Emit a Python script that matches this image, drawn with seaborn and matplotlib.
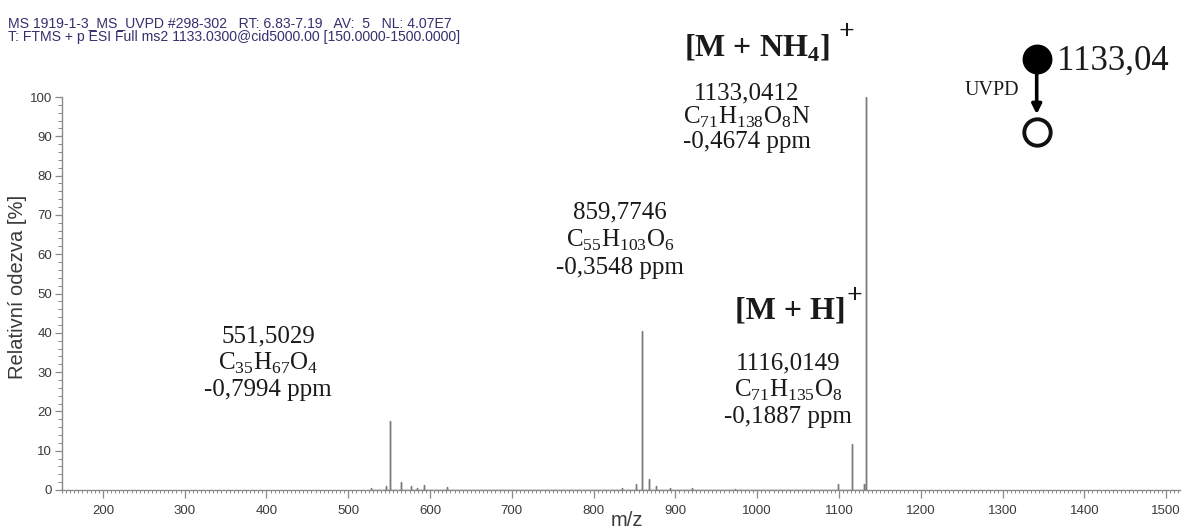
import matplotlib
matplotlib.use("Agg")
import matplotlib.pyplot as plt
import seaborn as sns
import pandas as pd
from matplotlib.lines import Line2D
from matplotlib.patches import FancyArrowPatch
from matplotlib.ticker import MultipleLocator

# ---- data ----
peak_mz = [528.0, 546.0, 551.50, 565.0, 577.0, 584.0, 593.0, 621.0, 835.0, 852.0,
           859.77, 867.5, 876.5, 893.5, 920.0, 973.5, 1099.0, 1116.01, 1131.0, 1133.04]
peak_rel = [0.4, 1.0, 17.5, 2.0, 1.0, 0.6, 1.3, 0.8, 0.5, 1.4,
            40.5, 2.7, 1.0, 0.4, 0.5, 0.3, 1.4, 11.8, 1.4, 100.0]
x_ticks = [200, 300, 400, 500, 600, 700, 800, 900, 1000, 1100, 1200, 1300, 1400, 1500]
y_ticks = [0, 10, 20, 30, 40, 50, 60, 70, 80, 90, 100]
header_lines = ["MS 1919-1-3_MS_UVPD #298-302   RT: 6.83-7.19   AV:  5   NL: 4.07E7",
                "T: FTMS + p ESI Full ms2 1133.0300@cid5000.00 [150.0000-1500.0000]"]

sns.set_theme(style="ticks")
plt.rcParams['font.family'] = ['Liberation Sans', 'DejaVu Sans']
plt.rcParams['mathtext.fontset'] = 'custom'
plt.rcParams['mathtext.rm'] = 'Liberation Serif'
plt.rcParams['mathtext.bf'] = 'Liberation Serif:bold'

W, H = 1185, 531
fig = plt.figure(figsize=(W / 100, H / 100), dpi=100)
fig.patch.set_facecolor('white')

def fx(px):
    return px / W

def fy(py):
    return 1 - py / H

ax = fig.add_axes([fx(62), fy(490), fx(1180) - fx(62), fy(97) - fy(490)])
ax.set_facecolor('white')

# stick spectrum through seaborn
rows_x, rows_y = [], []
for m, r in zip(peak_mz, peak_rel):
    rows_x += [m, m, m]
    rows_y += [0, r, 0]
df = pd.DataFrame({"mz": rows_x, "rel": rows_y})
sns.lineplot(data=df, x="mz", y="rel", estimator=None, sort=False,
             color="#7a7a7a", linewidth=1.0, ax=ax)

ax.set_xlim(150, 1517)
ax.set_ylim(0, 100)
ax.set_xlabel("")
ax.set_ylabel("")
ax.set_xticks(x_ticks)
ax.set_yticks(y_ticks)
ax.xaxis.set_minor_locator(MultipleLocator(5))
ax.yaxis.set_minor_locator(MultipleLocator(2))
for s in ['top', 'right']:
    ax.spines[s].set_visible(False)
for s in ['left', 'bottom']:
    ax.spines[s].set_color('#8a8a8a')
    ax.spines[s].set_linewidth(1.0)
ax.tick_params(axis='both', which='major', color='#8a8a8a', labelcolor='#3a3a3a',
               labelsize=9.5, width=0.9)
ax.tick_params(axis='x', which='major', length=5.5, pad=5.5)
ax.tick_params(axis='x', which='minor', length=2.5, color='#8a8a8a', width=0.7)
ax.tick_params(axis='y', which='major', length=5, pad=2)
ax.tick_params(axis='y', which='minor', length=3, color='#8a8a8a', width=0.7)

# axis labels
fig.text(fx(18), fy(287), "Relativní odezva [%]", rotation=90, ha='center', va='center',
         fontsize=14.5, color='#3a3a3a')
fig.text(fx(627), fy(520), "m/z", ha='center', va='center', fontsize=14.5, color='#3a3a3a')

# header
fig.text(fx(8), fy(22.7), header_lines[0], ha='left', va='center', fontsize=10.1, color='#35306e')
fig.text(fx(8), fy(36.7), header_lines[1], ha='left', va='center', fontsize=10.1, color='#35306e')

serif = ['Liberation Serif', 'DejaVu Serif']
lab_fs = 18

def group(xc, ys, lines):
    for y, t in zip(ys, lines):
        fig.text(fx(xc), fy(y), t, ha='center', va='center', fontsize=lab_fs,
                 family=serif, color='#1a1a1a')

group(268, [336, 363, 390], ["551,5029", r"C$_{35}$H$_{67}$O$_{4}$", "-0,7994 ppm"])
group(620, [212, 240, 268], ["859,7746", r"C$_{55}$H$_{103}$O$_{6}$", "-0,3548 ppm"])
group(788, [363, 390, 417], ["1116,0149", r"C$_{71}$H$_{135}$O$_{8}$", "-0,1887 ppm"])
group(747, [93, 117, 142], ["1133,0412", r"C$_{71}$H$_{138}$O$_{8}$N", "-0,4674 ppm"])

# adduct labels
fig.text(fx(757), fy(48), r"[M + NH$_{\mathregular{4}}$]", ha='center', va='center',
         fontsize=23, family=serif, fontweight='bold', color='#1a1a1a')
fig.text(fx(846), fy(33), "+", ha='center', va='center', fontsize=20, family=serif,
         fontweight='bold', color='#1a1a1a')
fig.text(fx(790), fy(311), "[M + H]", ha='center', va='center',
         fontsize=23, family=serif, fontweight='bold', color='#1a1a1a')
fig.text(fx(854), fy(296), "+", ha='center', va='center', fontsize=20, family=serif,
         fontweight='bold', color='#1a1a1a')

# UVPD diagram
cx = 1036.7
arrow = FancyArrowPatch((fx(cx), fy(62)), (fx(cx), fy(117)), transform=fig.transFigure,
                        arrowstyle='-|>', mutation_scale=14, linewidth=2.6, color='black')
fig.add_artist(arrow)
fig.add_artist(Line2D([fx(cx)], [fy(59.3)], transform=fig.transFigure, marker='o',
                      markersize=20.5, markerfacecolor='black', markeredgecolor='black',
                      linestyle='none'))
fig.add_artist(Line2D([fx(cx)], [fy(131.7)], transform=fig.transFigure, marker='o',
                      markersize=19, markerfacecolor='white', markeredgecolor='#111111',
                      markeredgewidth=2.8, linestyle='none'))
fig.text(fx(991.7), fy(90.7), "UVPD", ha='center', va='center', fontsize=14.5,
         family=serif, color='#1a1a1a')
fig.text(fx(1113), fy(61.7), "1133,04", ha='center', va='center', fontsize=25,
         family=serif, color='#1a1a1a')

fig.savefig("out.png", dpi=100, facecolor='white')
